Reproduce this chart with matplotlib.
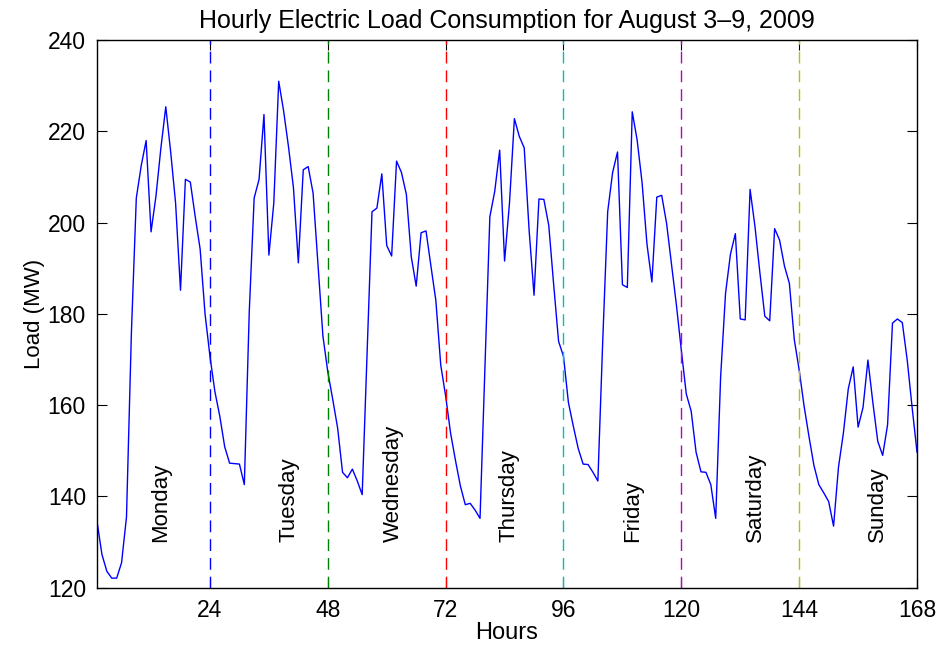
import numpy as np
import matplotlib
matplotlib.use("Agg")
import matplotlib.pyplot as plt

# hourly load, Aug 3-9 2009 (MW), hours 1..168
load = [
    134.5, 127.3, 123.6, 122.1, 122.1, 125.5, 135.5, 175.9, 205.4, 212.5, 218.0, 198.0,
    205.8, 216.3, 225.4, 215.5, 204.3, 185.2, 209.5, 208.9, 201.3, 194.2, 180.0, 170.7,
    163.0, 157.6, 150.9, 147.3, 147.2, 147.1, 142.6, 180.4, 205.4, 209.5, 223.7, 192.9,
    204.3, 231.0, 224.5, 216.6, 207.7, 191.2, 211.6, 212.3, 206.5, 190.9, 175.2, 167.3,
    161.3, 155.0, 145.3, 144.1, 146.0, 143.4, 140.4, 171.4, 202.4, 203.2, 210.7, 195.0,
    192.7, 213.5, 211.0, 206.2, 192.5, 186.1, 197.8, 198.2, 190.5, 183.0, 168.8, 162.0,
    153.9, 147.9, 142.3, 138.2, 138.5, 137.0, 135.2, 168.4, 201.3, 206.9, 215.9, 191.6,
    204.3, 222.8, 218.9, 216.4, 198.3, 184.1, 205.2, 205.1, 199.4, 186.4, 174.0, 170.7,
    160.6, 155.4, 150.5, 147.1, 147.0, 145.3, 143.4, 174.4, 202.4, 211.0, 215.5, 186.4,
    185.8, 224.3, 218.1, 208.8, 195.3, 187.0, 205.6, 206.0, 199.8, 190.9, 181.9, 172.0,
    162.5, 158.7, 149.7, 145.4, 145.3, 142.6, 135.2, 166.2, 184.5, 193.1, 197.6, 178.9,
    178.7, 207.3, 199.1, 189.0, 179.5, 178.5, 198.7, 196.2, 190.5, 186.7, 174.4, 167.7,
    159.8, 153.1, 146.8, 142.6, 140.8, 138.9, 133.5, 146.4, 153.9, 163.6, 168.4, 155.2,
    159.5, 169.9, 160.6, 152.1, 149.0, 155.7, 178.0, 178.9, 178.1, 169.9, 159.5, 149.7,
]
hours = np.arange(1, len(load) + 1)

day_names = ['Monday', 'Tuesday', 'Wednesday', 'Thursday', 'Friday', 'Saturday', 'Sunday']
day_label_x = [14, 40, 61.3, 85, 110, 135, 160]
day_ends = [24, 48, 72, 96, 120, 144]
line_colors = [(0, 0, 1), (0, 0.5, 0), (1, 0, 0), (0, 0.75, 0.75),
               (0.75, 0, 0.75), (0.75, 0.75, 0)]

plt.rcParams['font.family'] = ['Liberation Sans', 'DejaVu Sans']

fig = plt.figure(figsize=(9.42, 6.48), dpi=100)
ax = fig.add_axes([0.103, 0.093, 0.8705, 0.845])

ax.plot(hours, load, color='b', linewidth=1.0)
for d, c in zip(day_ends, line_colors):
    ax.axvline(d, color=c, linestyle=(0, (8.5, 5)), linewidth=1.0)
for name, x in zip(day_names, day_label_x):
    ax.text(x, 130, name, rotation=90, ha='center', va='bottom', fontsize=16)

ax.set_xlim(1, 168)
ax.set_ylim(120, 240)
ax.set_xticks([24, 48, 72, 96, 120, 144, 168])
ax.set_yticks(np.arange(120, 241, 20))
ax.tick_params(direction='in', top=True, right=True, labelsize=16.5, length=7, pad=8)
for s in ax.spines.values():
    s.set_linewidth(1.0)

ax.set_xlabel('Hours', fontsize=17, labelpad=0)
ax.set_ylabel('Load (MW)', fontsize=16, labelpad=2)
ax.set_title('Hourly Electric Load Consumption for August 3\u20139, 2009', fontsize=18, pad=9)

fig.savefig('out.png', dpi=100)
